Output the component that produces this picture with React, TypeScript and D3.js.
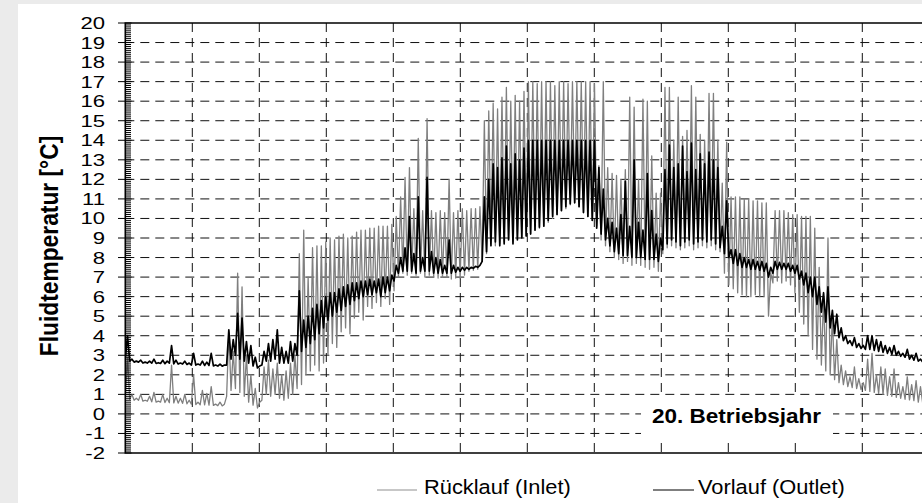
import React from 'react';
import * as d3 from 'd3';

// one sample every 48 h: low / high value of the hourly signal in that window
const SAMPLE_STEP = 48;
const HOURS_PER_YEAR = 8760;
const MONTH_HOURS = 730;

// Rücklauf (Inlet) - grey
const rueckLo = [
  0.8, 0.75, 0.7, 0.7, 0.65, 0.65, 0.62, 0.6, 0.6, 0.58,
  0.57, 0.56, 0.55, 0.54, 0.52, 0.5, 0.48, 0.47, 0.46, 0.45,
  0.44, 0.42, 0.41, 0.9, 1.2, 1.3, 1.1, 0.9, 0.6, 0.45,
  0.3, 0.7, 1.0, 0.9, 1.0, 0.8, 0.7, 0.8, 1.0, 1.3,
  1.5, 2.0, 2.2, 2.5, 2.2, 2.6, 3.0, 3.6, 3.4, 4.2,
  4.4, 4.1, 4.9, 5.2, 4.8, 5.5, 5.4, 5.7, 5.5, 5.9,
  5.6, 6.3, 7.0, 7.2, 7.1, 7.2, 7.1, 7.2, 7.0, 7.1,
  7.0, 6.95, 7.0, 7.0, 6.9, 6.95, 6.95, 7.1, 7.3, 7.35,
  7.4, 7.8, 8.2, 8.9, 8.6, 8.7, 8.8, 9.0, 8.8, 9.0,
  9.0, 9.1, 9.2, 9.4, 9.5, 9.6, 9.8, 10.0, 10.2, 10.4,
  10.5, 10.7, 10.8, 10.6, 10.3, 10.1, 9.9, 9.6, 8.9, 8.6,
  8.3, 8.0, 7.9, 7.7, 7.8, 7.6, 7.7, 7.6, 7.5, 7.4,
  7.5, 7.3, 8.2, 8.5, 8.6, 8.5, 8.4, 8.5, 8.6, 8.4,
  8.5, 8.6, 8.5, 8.6, 8.4, 8.3, 7.2, 6.6, 6.4, 6.2,
  6.1, 6.0, 6.0, 6.1, 6.0, 6.0, 5.0, 6.7, 6.8, 6.7,
  6.8, 6.6, 6.2, 5.2, 4.6, 4.0, 3.3, 2.8, 2.5, 2.2,
  2.0, 1.75, 1.6, 1.5, 1.4, 1.35, 1.3, 1.25, 1.2, 1.15,
  1.1, 1.05, 1.0, 0.95, 0.9, 0.85, 0.8, 0.75, 0.72, 0.68,
  0.6, 0.55,
];
const rueckHi = [
  2.9, 1.0, 0.8, 1.0, 0.7, 0.9, 1.1, 0.65, 1.0, 0.8,
  2.5, 0.9, 0.8, 1.0, 0.7, 2.0, 0.6, 1.2, 1.05, 1.4,
  0.5, 0.6, 0.5, 4.2, 3.2, 7.2, 6.5, 3.0, 2.0, 1.3,
  0.6, 2.4, 2.75, 2.3, 2.6, 2.0, 2.2, 2.6, 3.0, 8.2,
  9.4, 7.0, 8.5, 8.6, 8.6, 8.8, 9.0, 8.9, 9.1, 9.2,
  9.0, 9.1, 9.3, 9.4, 9.4, 9.5, 9.5, 9.6, 9.6, 9.6,
  9.7, 10.1, 11.1, 12.1, 12.6, 10.5, 14.1, 10.4, 15.1, 10.4,
  10.3, 10.4, 10.3, 12.0, 10.3, 10.4, 10.5, 10.4, 10.5, 10.5,
  10.6, 15.0, 15.5, 15.9, 15.6, 16.2, 16.7, 16.0, 16.3, 16.0,
  16.5, 17.0, 17.0, 16.9, 17.0, 17.0, 17.0, 16.8, 17.0, 17.0,
  16.9, 17.0, 17.0, 17.0, 17.0, 17.0, 16.9, 12.7, 17.0, 12.6,
  12.3, 12.2, 12.0, 12.5, 16.2, 15.7, 12.0, 16.1, 16.0, 13.2,
  11.3, 11.3, 16.7, 16.7, 14.0, 16.2, 14.2, 14.5, 16.8, 16.2,
  14.3, 14.0, 16.4, 16.4, 14.0, 11.8, 13.9, 11.1, 11.1, 11.1,
  11.0, 11.0, 10.9, 10.9, 10.8, 10.8, 7.2, 10.4, 10.4, 10.4,
  10.3, 10.2, 10.2, 10.1, 10.1, 10.1, 9.5, 7.5, 6.0, 9.0,
  5.0, 3.8, 2.5, 2.2, 1.9, 2.4, 1.8, 1.6, 2.8, 3.1,
  2.0, 2.4, 2.3, 1.9, 2.3, 1.6, 1.4, 1.9, 1.5, 1.7,
  1.4, 1.0,
];

// Vorlauf (Outlet) - black
const vorLo = [
  2.8, 2.7, 2.65, 2.65, 2.6, 2.6, 2.6, 2.58, 2.58, 2.57,
  2.6, 2.56, 2.55, 2.55, 2.53, 2.5, 2.5, 2.5, 2.48, 2.48,
  2.46, 2.45, 2.44, 2.5, 2.8, 3.0, 2.8, 2.7, 2.6, 2.45,
  2.35, 2.5, 2.7, 2.7, 2.8, 2.6, 2.6, 2.6, 2.7, 3.0,
  3.2, 3.4, 3.6, 3.8, 4.1, 4.4, 4.8, 5.0, 5.2, 5.3,
  5.5, 5.6, 5.8, 5.9, 6.0, 6.1, 6.1, 6.2, 6.0, 6.2,
  6.3, 6.8, 7.2, 7.3, 7.3, 7.3, 7.2, 7.3, 7.3, 7.3,
  7.2, 7.2, 7.2, 7.2, 7.2, 7.25, 7.3, 7.35, 7.4, 7.45,
  7.5, 7.8, 8.3, 8.6, 8.8, 8.6, 8.7, 8.9, 8.7, 8.9,
  9.0, 9.1, 9.2, 9.4, 9.55, 9.6, 9.9, 10.1, 10.2, 10.4,
  10.6, 10.75, 10.8, 10.6, 10.3, 10.1, 9.9, 9.5, 9.2, 8.9,
  8.6, 8.3, 8.2, 8.1, 8.1, 8.0, 8.0, 8.0, 7.9, 7.9,
  7.9, 7.8, 8.4, 8.7, 8.9, 8.8, 8.6, 8.8, 8.9, 8.7,
  8.8, 8.9, 8.8, 8.9, 8.7, 8.5, 8.2, 8.0, 7.7, 7.6,
  7.5, 7.5, 7.4, 7.4, 7.35, 7.3, 7.0, 7.2, 7.4, 7.4,
  7.4, 7.3, 7.2, 6.9, 6.6, 6.2, 6.0, 5.6, 5.2, 4.7,
  4.4, 4.1, 3.9, 3.75, 3.6, 3.5, 3.4, 3.35, 3.3, 3.3,
  3.25, 3.2, 3.15, 3.1, 3.05, 3.0, 2.95, 2.9, 2.8, 2.75,
  2.7, 2.65,
];
const vorHi = [
  4.0, 2.8, 2.7, 2.75, 2.65, 2.7, 2.8, 2.62, 2.75, 2.7,
  3.5, 2.75, 2.6, 2.7, 2.6, 3.1, 2.55, 2.7, 2.65, 3.1,
  2.5, 2.55, 2.5, 4.3, 3.8, 5.15, 4.9, 3.7, 3.5, 2.9,
  2.45, 3.2, 3.6, 3.8, 4.3, 3.4, 3.2, 3.7, 3.6, 6.3,
  4.8, 5.0, 5.4, 5.6, 5.8, 6.0, 6.2, 6.2, 6.4, 6.5,
  6.6, 6.7, 6.7, 6.8, 6.8, 6.9, 6.8, 6.9, 7.0, 7.0,
  7.1, 7.6, 8.0, 8.5, 10.1, 8.2, 11.1, 8.0, 12.1, 8.3,
  8.0, 7.9, 7.6, 8.9, 7.6, 7.5, 7.5, 7.5, 7.5, 7.55,
  7.6, 11.1, 12.0, 12.8, 12.6, 13.1, 13.7, 12.8, 13.3, 13.0,
  13.6, 14.0, 14.0, 14.0, 14.0, 14.0, 14.0, 14.0, 14.0, 14.0,
  14.0, 14.0, 14.0, 14.0, 14.0, 14.0, 14.0, 12.6, 11.5, 10.0,
  9.8, 9.5, 10.2, 11.9, 9.6, 13.0, 9.8, 9.4, 12.3, 10.4,
  9.2, 9.0, 12.5, 13.75, 12.6, 12.8, 13.7, 12.4, 13.85, 12.5,
  13.3, 12.8, 13.4, 13.0, 12.6, 9.6, 10.9, 8.4, 8.4, 8.2,
  8.0, 7.9, 7.9, 7.8, 7.8, 7.7, 7.5, 7.8, 7.75, 7.7,
  7.7, 7.6, 7.6, 7.3, 7.2, 7.0, 7.0, 6.5, 6.2, 6.5,
  5.3, 5.1, 4.4, 4.0, 3.75, 3.9, 3.6, 3.5, 4.0, 4.0,
  3.8, 3.7, 3.5, 3.4, 3.5, 3.2, 3.1, 3.3, 3.0, 3.1,
  2.8, 2.75,
];

const yTicks = d3.range(-2, 21);
const yMinorTicks = d3.range(-20, 201).filter((k) => k % 10 !== 0).map((k) => k / 10);
const monthTicks = d3.range(0, HOURS_PER_YEAR + 1, MONTH_HOURS);

const FONT = '"Liberation Sans", Arial, Helvetica, sans-serif';

export default function App() {
  const left = 125.3;
  const right = 929.3;
  const top = 23;
  const bottom = 453;

  const x = d3.scaleLinear().domain([0, HOURS_PER_YEAR]).range([left, right]);
  const y = d3.scaleLinear().domain([-2, 20]).range([bottom, top]);

  const toPoints = (lo: number[], hi: number[]) => {
    const n = Math.min(lo.length, hi.length);
    const pts: [number, number][] = [];
    for (let i = 0; i < n; i++) {
      pts.push([i * SAMPLE_STEP, lo[i]]);
      pts.push([i * SAMPLE_STEP + SAMPLE_STEP / 2, hi[i]]);
    }
    return pts;
  };

  const line = d3
    .line<[number, number]>()
    .x((d) => x(d[0]))
    .y((d) => y(d[1]));

  const rueckPath = line(toPoints(rueckLo, rueckHi)) || '';
  const vorPath = line(toPoints(vorLo, vorHi)) || '';

  return (
    <div style={{ position: 'fixed', left: 0, top: 0 }}>
      <svg width={922} height={503} style={{ display: 'block', background: '#ebebeb' }} fontFamily={FONT}>
        <rect x={18} y={4} width={904} height={499} fill="#ffffff" />

        {/* grid */}
        <g stroke="#111" strokeWidth={1} strokeDasharray="9 6" fill="none">
          {yTicks
            .filter((t) => t > -2 && t < 20)
            .map((t) => (
              <line key={'h' + t} x1={left} x2={right} y1={y(t)} y2={y(t)} />
            ))}
          {monthTicks
            .filter((m) => m > 0 && m < HOURS_PER_YEAR)
            .map((m) => (
              <line key={'v' + m} x1={x(m)} x2={x(m)} y1={top} y2={bottom} />
            ))}
        </g>

        {/* series */}
        <defs>
          <clipPath id="plot">
            <rect x={left} y={top} width={right - left} height={bottom - top} />
          </clipPath>
        </defs>
        <g clipPath="url(#plot)" fill="none" strokeLinejoin="round">
          <path d={rueckPath} stroke="#7f7f7f" strokeWidth={1.3} />
          <path d={vorPath} stroke="#000" strokeWidth={1.7} />
        </g>

        {/* axes frame */}
        <path
          d={`M${right},${top}H${left}V${bottom}H${right}`}
          fill="none"
          stroke="#000"
          strokeWidth={1.6}
        />
        <g stroke="#000" strokeWidth={1}>
          {yTicks.map((t) => (
            <line key={'mt' + t} x1={118} x2={131.5} y1={y(t)} y2={y(t)} />
          ))}
          {yMinorTicks.map((t) => (
            <line key={'nt' + t} x1={left} x2={131} y1={y(t)} y2={y(t)} />
          ))}
        </g>
        <g fontSize={17} textAnchor="end" fill="#000">
          {yTicks.map((t) => (
            <text key={'tl' + t} transform={`translate(105,${y(t) + 6}) scale(1.3,1)`}>
              {t}
            </text>
          ))}
        </g>
        <text
          transform="translate(58,246) rotate(-90) scale(1,1.12)"
          textAnchor="middle"
          fontWeight="bold"
          fontSize={22.8}
        >
          Fluidtemperatur [°C]
        </text>

        {/* label box */}
        <rect x={641} y={398} width={192} height={40} fill="#fff" />
        <text transform="translate(652,423) scale(1.15,1)" fontWeight="bold" fontSize={19.6}>
          20. Betriebsjahr
        </text>

        {/* legend */}
        <line x1={377} x2={417} y1={490} y2={490} stroke="#909090" strokeWidth={1.2} />
        <text transform="translate(424,494) scale(1.12,1)" fontSize={19.5}>
          Rücklauf (Inlet)
        </text>
        <line x1={653} x2={694} y1={490} y2={490} stroke="#000" strokeWidth={1.2} />
        <text transform="translate(698,494) scale(1.12,1)" fontSize={19.5}>
          Vorlauf (Outlet)
        </text>
      </svg>
    </div>
  );
}
